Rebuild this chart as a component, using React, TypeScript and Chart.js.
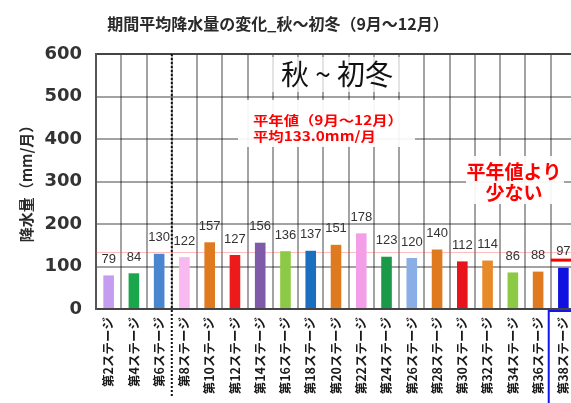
import { useEffect, useRef } from "react";
import { Chart, registerables } from "chart.js";

Chart.register(...registerables);

const categories = [
  "第2ステージ", "第4ステージ", "第6ステージ", "第8ステージ", "第10ステージ",
  "第12ステージ", "第14ステージ", "第16ステージ", "第18ステージ", "第20ステージ",
  "第22ステージ", "第24ステージ", "第26ステージ", "第28ステージ", "第30ステージ",
  "第32ステージ", "第34ステージ", "第36ステージ", "第38ステージ",
];
const values = [79, 84, 130, 122, 157, 127, 156, 136, 137, 151, 178, 123, 120, 140, 112, 114, 86, 88, 97];
const barColors = [
  "#c49cf0", "#1aa64a", "#4a86d0", "#f8b8f0", "#e07a1f",
  "#ec1a1a", "#7e5aa8", "#8cc944", "#1a6fc0", "#e07a1f",
  "#f59ee8", "#1a9a46", "#8aaee6", "#e07a1f", "#e8141c",
  "#e88a2a", "#8cc944", "#e07a1f", "#1010e0",
];
const yMin = 0;
const yMax = 600;
const yStep = 100;
const normalAverage = 133.0;
const markerValue = 115;
const dividerAfterIndex = 2;
const chartTitle = "期間平均降水量の変化_秋～初冬（9月～12月）";
const yAxisTitle = "降水量（mm/月）";
const periodLabel = "秋 ~ 初冬";
const normalNoteLines = ["平年値（9月～12月）", "平均133.0mm/月"];
const belowNoteLines = ["平年値より", "少ない"];

const JP = '"Noto Sans CJK JP", "Noto Sans", sans-serif';

const overlayPlugin = {
  id: "overlay",
  beforeDatasetsDraw(chart: any) {
    const { ctx, chartArea, scales } = chart;
    const y = scales.y.getPixelForValue(normalAverage);
    ctx.save();
    ctx.strokeStyle = "rgba(255,60,60,0.35)";
    ctx.lineWidth = 1;
    ctx.beginPath();
    ctx.moveTo(chartArea.left, y);
    ctx.lineTo(chartArea.right, y);
    ctx.stroke();
    ctx.restore();
  },
  afterDatasetsDraw(chart: any) {
    const { ctx, scales } = chart;
    const meta = chart.getDatasetMeta(0);
    ctx.save();
    ctx.font = '13px "Liberation Sans", Arial, sans-serif';
    ctx.fillStyle = "#333";
    ctx.textAlign = "center";
    ctx.textBaseline = "middle";
    meta.data.forEach((bar: any, i: number) => {
      ctx.fillText(String(values[i]), bar.x, scales.y.getPixelForValue(values[i]) - 16);
    });
    ctx.restore();
  },
  afterDraw(chart: any) {
    const { ctx, chartArea, scales, height } = chart;
    const xs = scales.x;
    ctx.save();

    // title
    ctx.font = `bold 16px ${JP}`;
    ctx.fillStyle = "#2a2a2a";
    ctx.textAlign = "center";
    ctx.textBaseline = "middle";
    ctx.fillText(chartTitle, 278, 24);

    // y axis title
    ctx.save();
    ctx.translate(26, 180);
    ctx.rotate(-Math.PI / 2);
    ctx.font = `bold 15px ${JP}`;
    ctx.fillStyle = "#2a2a2a";
    ctx.fillText(yAxisTitle, 0, 0);
    ctx.restore();

    // dotted divider
    const dx = (xs.getPixelForValue(dividerAfterIndex) + xs.getPixelForValue(dividerAfterIndex + 1)) / 2;
    ctx.strokeStyle = "#111";
    ctx.lineWidth = 2;
    ctx.setLineDash([2, 2]);
    ctx.beginPath();
    ctx.moveTo(dx, chartArea.top);
    ctx.lineTo(dx, 397);
    ctx.stroke();
    ctx.setLineDash([]);

    // period label
    ctx.fillStyle = "rgba(255,255,255,0.7)";
    ctx.fillRect(262, 57, 150, 35);
    ctx.font = `28px ${JP}`;
    ctx.fillStyle = "#111";
    ctx.textAlign = "center";
    ctx.fillText(periodLabel, 337, 74);

    // normal note
    ctx.fillStyle = "rgba(255,255,255,0.92)";
    ctx.fillRect(238, 100, 177, 47);
    ctx.fillStyle = "#ff0000";
    ctx.font = `bold 13px ${JP}`;
    ctx.textAlign = "left";
    normalNoteLines.forEach((line, i) => {
      ctx.save();
      ctx.translate(253, 120 + i * 16);
      ctx.scale(1.18, 1);
      ctx.fillText(line, 0, 0);
      ctx.restore();
    });

    // below-normal note
    ctx.fillStyle = "rgba(255,255,255,0.92)";
    ctx.fillRect(466, 156, 98, 48);
    ctx.fillStyle = "#ff0000";
    ctx.font = `bold 19px ${JP}`;
    ctx.textAlign = "center";
    belowNoteLines.forEach((line, i) => {
      ctx.fillText(line, 514, 172 + i * 21);
    });

    // marker on last bar
    const last = values.length - 1;
    const lastLeft = (xs.getPixelForValue(last - 1) + xs.getPixelForValue(last)) / 2;
    const my = scales.y.getPixelForValue(markerValue);
    ctx.strokeStyle = "#ff0000";
    ctx.lineWidth = 3;
    ctx.beginPath();
    ctx.moveTo(lastLeft, my);
    ctx.lineTo(chartArea.right, my);
    ctx.stroke();

    // blue box around last label
    ctx.strokeStyle = "#1414f0";
    ctx.lineWidth = 2;
    ctx.strokeRect(lastLeft - 2, chartArea.bottom + 2, chartArea.right - lastLeft + 10, height);

    ctx.restore();
  },
};

export default function App() {
  const canvasRef = useRef<HTMLCanvasElement | null>(null);

  useEffect(() => {
    const canvas = canvasRef.current;
    if (!canvas) return;
    const chart = new Chart(canvas, {
      type: "bar",
      data: {
        labels: categories,
        datasets: [
          {
            data: values,
            backgroundColor: barColors,
            borderWidth: 0,
            barPercentage: 0.42,
            categoryPercentage: 1,
          },
        ],
      },
      options: {
        responsive: false,
        animation: false,
        layout: { padding: { top: 54, left: 0, right: 24, bottom: 0 } },
        plugins: {
          legend: { display: false },
          tooltip: { enabled: false },
          title: { display: false },
        },
        scales: {
          x: {
            offset: true,
            grid: {
              offset: true,
              color: "rgba(0,0,0,0.36)",
              lineWidth: 2,
              drawTicks: false,
            },
            border: { display: true, color: "#444", width: 2 },
            ticks: {
              autoSkip: false,
              minRotation: 90,
              maxRotation: 90,
              padding: 8,
              color: "#1a1a1a",
              font: { family: JP, size: 12.5, weight: "bold" },
            },
            afterFit(scale: any) {
              scale.height = 94;
            },
          },
          y: {
            min: yMin,
            max: yMax,
            ticks: {
              stepSize: yStep,
              padding: 14,
              color: "#333",
              font: { family: '"DejaVu Sans", sans-serif', size: 18, weight: "bold" },
            },
            grid: {
              color: (c: any) => (c.tick && c.tick.value === yMax ? "#444" : "rgba(0,0,0,0.36)"),
              lineWidth: 2,
              drawTicks: false,
            },
            border: { display: true, color: "#555", width: 2 },
            afterFit(scale: any) {
              scale.width = 96;
            },
          },
        },
      },
      plugins: [overlayPlugin],
    });
    return () => chart.destroy();
  }, []);

  return (
    <div style={{ position: "fixed", left: 0, top: 0, width: 571, height: 403, overflow: "hidden", background: "#fff" }}>
      <canvas ref={canvasRef} width={600} height={403} style={{ display: "block", width: 600, height: 403 }} />
    </div>
  );
}
